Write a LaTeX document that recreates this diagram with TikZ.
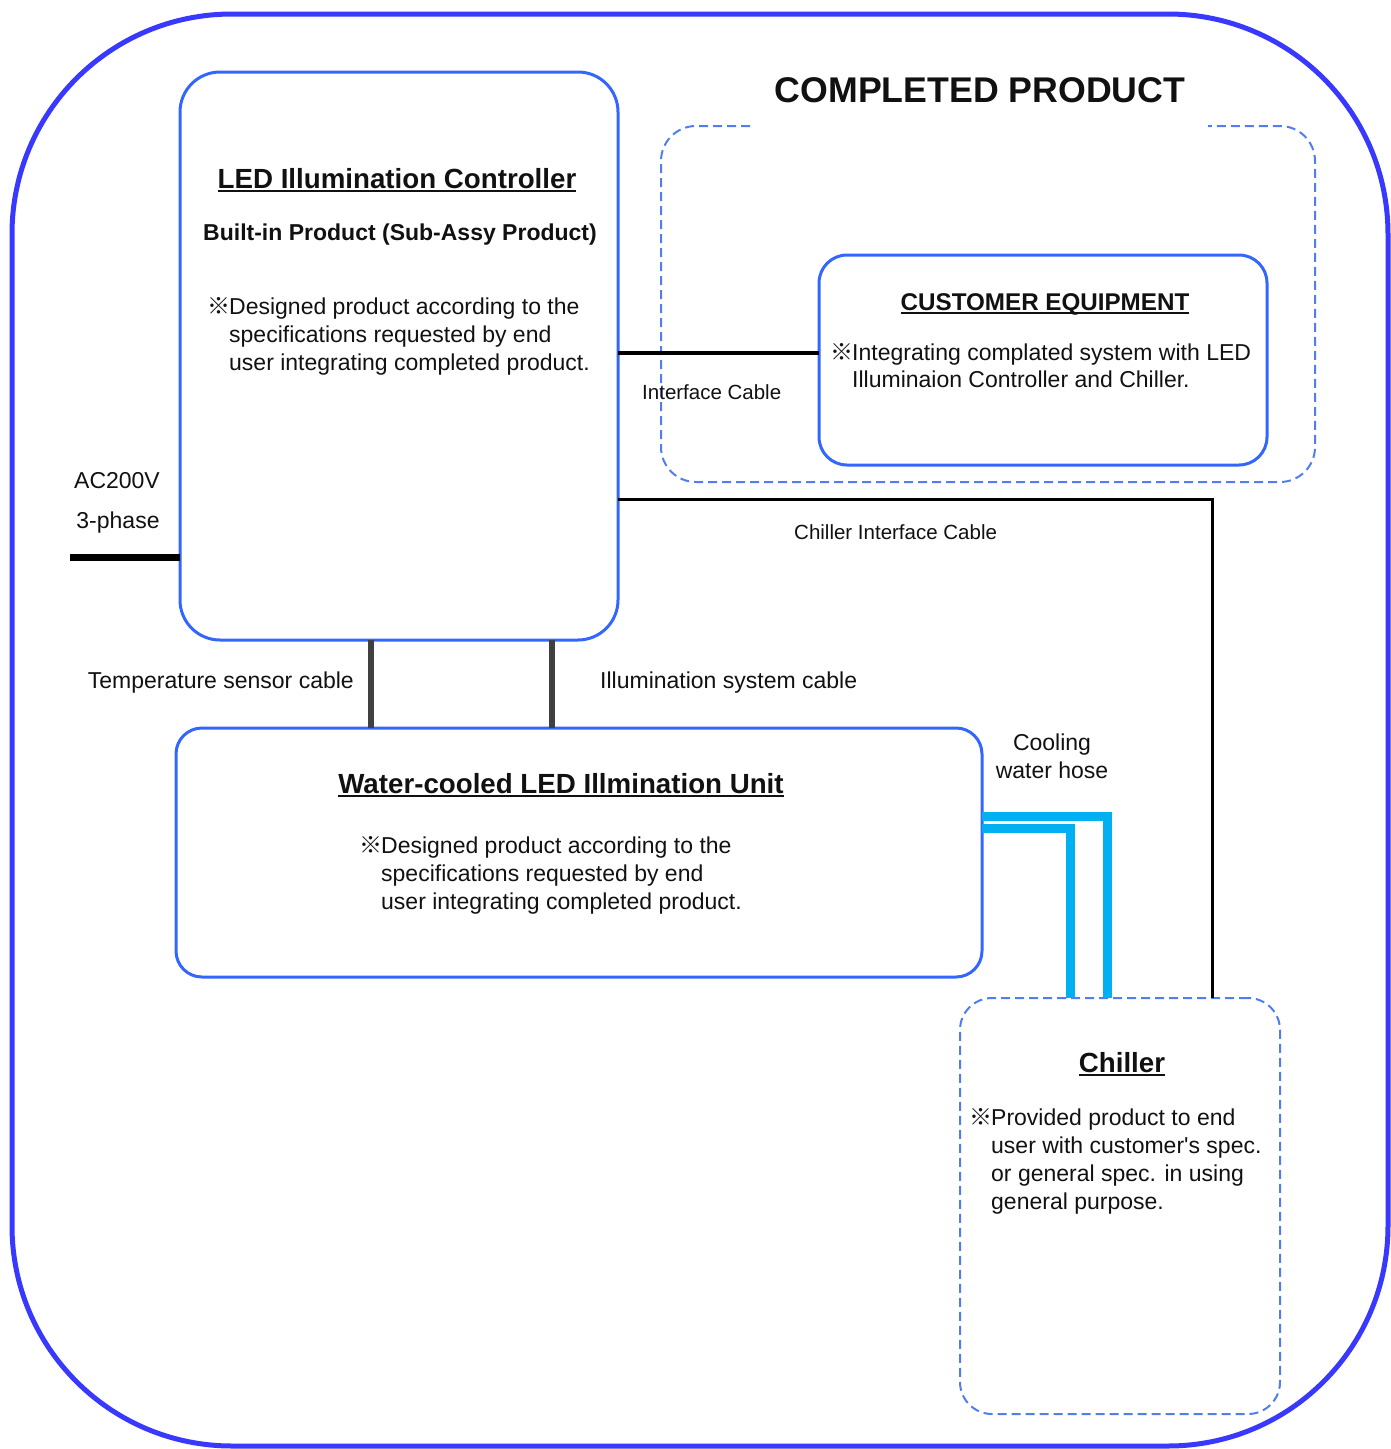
\documentclass[tikz,border=0pt]{standalone}
\usepackage{fontspec}
\setmainfont{Liberation Sans}
\newfontfamily\cjkfont{Noto Sans CJK JP}
\definecolor{frameblue}{RGB}{56,56,255}
\definecolor{boxblue}{RGB}{51,102,255}
\definecolor{dashblue}{RGB}{80,125,240}
\definecolor{hosecol}{RGB}{0,176,240}
\definecolor{cablegray}{RGB}{64,64,64}
\definecolor{inkcol}{RGB}{17,17,17}
\newcommand\ulined[1]{\setbox0\hbox{#1}\rlap{\rule[-4pt]{\wd0}{2pt}}\box0}
\newcommand\rmk{\makebox[22pt][l]{\cjkfont ※}}
\newcommand\ind{\hspace*{22pt}}
\newcommand\sq{\XeTeXglyph\XeTeXcharglyph"27\relax}
\begin{document}
\begin{tikzpicture}[x=1pt,y=-1pt,
  every node/.style={text=inkcol},
  solidbox/.style={draw=boxblue, line width=3pt, outer sep=0pt, inner sep=0pt},
  dashbox/.style={draw=dashblue, line width=2pt, dash pattern=on 9pt off 5pt, outer sep=0pt, inner sep=0pt},
  ttl/.style={font=\fontsize{27.7}{33}\selectfont\bfseries, inner sep=0pt, anchor=base},
  body/.style={font=\fontsize{23}{28}\selectfont, align=left, inner sep=0pt, anchor=west},
  lbl/.style={font=\fontsize{20.5}{25}\selectfont, inner sep=0pt, anchor=base west},
  txt/.style={font=\fontsize{23}{28}\selectfont, inner sep=0pt},
  cable/.style={draw=black, line width=3.5pt},
  gcable/.style={draw=cablegray, line width=6pt},
  hoseline/.style={draw=hosecol, line width=9pt, line join=miter}]
\useasboundingbox (0,0) rectangle (1391,1449);

% outer frame
\draw[frameblue, line width=5pt, rounded corners=220pt] (12,14) rectangle (1388,1446);

% completed product group
\draw[dashblue, line width=2pt, dash pattern=on 9pt off 5pt, rounded corners=35pt]
  (750,126) -- (661,126) -- (661,482) -- (1315,482) -- (1315,126) -- (1208,126);
\node[font=\fontsize{35.7}{40}\selectfont\bfseries, inner sep=0pt, anchor=base] (cptitle) at (980,102) {COMPLETED PRODUCT};

% boxes
\node[solidbox, rounded corners=40pt, minimum width=438pt, minimum height=568pt] (ctrl) at (399,356) {};
\node[solidbox, rounded corners=28pt, minimum width=448pt, minimum height=210pt] (cust) at (1043,360) {};
\node[solidbox, rounded corners=26pt, minimum width=806pt, minimum height=249pt] (unit) at (579,852.5) {};
\node[dashbox, rounded corners=32pt, minimum width=320pt, minimum height=416pt] (chiller) at (1120,1206) {};

% controller texts
\node[ttl] (ctrlttl) at (397,188) {\ulined{LED Illumination Controller}};
\node[txt, font=\fontsize{23}{28}\selectfont\bfseries, anchor=base] (ctrlsub) at (400,240) {Built-in Product (Sub-Assy Product)};
\node[body] (ctrlbody) at (207,336) {\rmk Designed product according to the\\\ind specifications requested by end\\\ind user integrating completed product.};

% customer texts
\node[font=\fontsize{24.2}{29}\selectfont\bfseries, inner sep=0pt, anchor=base] (custttl) at (1045,310) {\ulined{CUSTOMER EQUIPMENT}};
\node[body, font=\fontsize{23}{27}\selectfont] (custbody) at (830,366) {\rmk Integrating complated system with LED\\\ind Illuminaion Controller and Chiller.};

% unit texts
\node[ttl] (unitttl) at (561,793) {\ulined{Water-cooled LED Illmination Unit}};
\node[body] (unitbody) at (359,875) {\rmk Designed product according to the\\\ind specifications requested by end\\\ind user integrating completed product.};

% chiller texts
\node[ttl] (chillttl) at (1122,1072) {\ulined{Chiller}};
\node[body] (chillbody) at (969,1161) {\rmk Provided product to end\\\ind user with customer\sq s spec.\\\ind or general spec. in using\\\ind general purpose.};

% power input
\coordinate (acend) at (70,557);
\draw[black, line width=7pt] (acend) -- (ctrl.west |- acend);
\node[txt, anchor=base] (ac1) at (117,488) {AC200V};
\node[txt, anchor=base] (ac2) at (118,528) {3-phase};

% interface cable
\draw[cable] (ctrl.east |- 0,353) -- (cust.west |- 0,353);
\node[lbl] (ifclbl) at (642,399) {Interface Cable};

% chiller interface cable
\draw[black, line width=3pt] (ctrl.east |- 0,499) -| (1212,0 |- chiller.north);
\node[lbl] (chifclbl) at (794,539) {Chiller Interface Cable};

% sensor and illumination cables
\draw[gcable] (371,0 |- ctrl.south) -- (371,0 |- unit.north);
\draw[gcable] (552,0 |- ctrl.south) -- (552,0 |- unit.north);
\node[txt, anchor=base east] (templbl) at (354,688) {Temperature sensor cable};
\node[txt, anchor=base west] (illlbl) at (600,688) {Illumination system cable};

% cooling hoses
\draw[hoseline] (unit.east |- 0,816) -| (1107,0 |- chiller.north);
\draw[hoseline] (unit.east |- 0,828) -| (1070,0 |- chiller.north);
\node[txt, align=center] (hoselbl) at (1052,756) {Cooling\\water hose};
\end{tikzpicture}
\end{document}
